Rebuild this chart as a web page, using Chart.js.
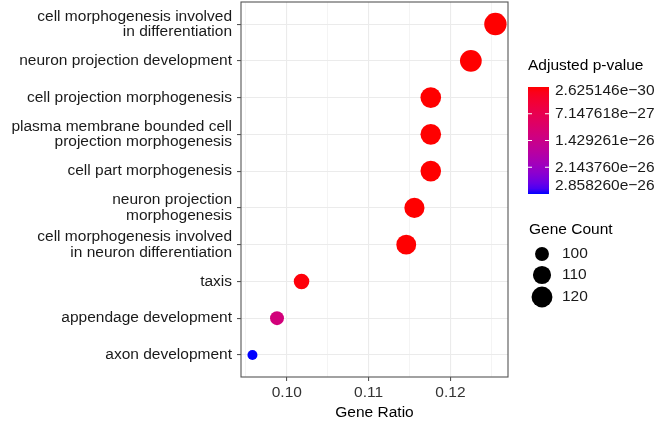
<!DOCTYPE html>
<html>
<head>
<meta charset="utf-8">
<script src="https://cdn.jsdelivr.net/npm/chart.js@4.4.1/dist/chart.umd.min.js"></script>
<style>
  body { margin: 0; background: #fff; }
  #wrap { width: 658px; height: 421px; }
</style>
</head>
<body>
<div id="wrap"><canvas id="grafico" width="658" height="421"></canvas></div>
<script>
// ---- dados (de cima para baixo) ----
const categorias = [
    "cell morphogenesis involved\nin differentiation",
    "neuron projection development",
    "cell projection morphogenesis",
    "plasma membrane bounded cell\nprojection morphogenesis",
    "cell part morphogenesis",
    "neuron projection\nmorphogenesis",
    "cell morphogenesis involved\nin neuron differentiation",
    "taxis",
    "appendage development",
    "axon development"
];
const geneRatio = [0.1255, 0.1225, 0.1176, 0.1176, 0.1176, 0.1156, 0.1146, 0.1018, 0.0988, 0.0958];
const geneCount = [127, 124, 119, 119, 119, 117, 116, 103, 100, 97];
const pAjustado = [2.625146e-30, 4.1e-30, 6.2e-30, 6.2e-30, 6.8e-30, 1.9e-29, 3.5e-29, 4.4e-28, 1.25e-26, 2.858260e-26];

const xTicksMaiores = [0.10, 0.11, 0.12];
const xTicksMenores = [0.095, 0.105, 0.115, 0.125];

const pBreaks = [2.625146e-30, 7.147618e-27, 1.429261e-26, 2.143760e-26, 2.858260e-26];
const pLabels = ["2.625146e\u221230", "7.147618e\u221227", "1.429261e\u221226", "2.143760e\u221226", "2.858260e\u221226"];
const countBreaks = [100, 110, 120];

const FONTE = "'Liberation Sans', Arial, sans-serif";
const TAM = 15.5;
const n = categorias.length;

// ---- cores: gradiente vermelho -> azul em Lab (como o ggplot) ----
function lin(c) { c /= 255; return c <= 0.04045 ? c / 12.92 : Math.pow((c + 0.055) / 1.055, 2.4); }
function unlin(c) { c = c <= 0.0031308 ? 12.92 * c : 1.055 * Math.pow(c, 1 / 2.4) - 0.055; return Math.round(Math.min(1, Math.max(0, c)) * 255); }
const Xn = 0.95047, Yn = 1, Zn = 1.08883;
function rgbToLab(r, g, b) {
    r = lin(r); g = lin(g); b = lin(b);
    let x = (r * 0.4124 + g * 0.3576 + b * 0.1805) / Xn;
    let y = (r * 0.2126 + g * 0.7152 + b * 0.0722) / Yn;
    let z = (r * 0.0193 + g * 0.1192 + b * 0.9505) / Zn;
    const f = t => t > 0.008856 ? Math.cbrt(t) : 7.787 * t + 16 / 116;
    x = f(x); y = f(y); z = f(z);
    return [116 * y - 16, 500 * (x - y), 200 * (y - z)];
}
function labToRgb(L, a, b) {
    let y = (L + 16) / 116, x = a / 500 + y, z = y - b / 200;
    const fi = t => t * t * t > 0.008856 ? t * t * t : (t - 16 / 116) / 7.787;
    x = fi(x) * Xn; y = fi(y) * Yn; z = fi(z) * Zn;
    const r = x * 3.2406 + y * -1.5372 + z * -0.4986;
    const g = x * -0.9689 + y * 1.8758 + z * 0.0415;
    const bl = x * 0.0557 + y * -0.2040 + z * 1.0570;
    return "rgb(" + unlin(r) + "," + unlin(g) + "," + unlin(bl) + ")";
}
const labVermelho = rgbToLab(255, 0, 0);
const labAzul = rgbToLab(0, 0, 255);
const pMin = Math.min(...pAjustado), pMax = Math.max(...pAjustado);
function corT(t) {
    return labToRgb(
        labVermelho[0] + (labAzul[0] - labVermelho[0]) * t,
        labVermelho[1] + (labAzul[1] - labVermelho[1]) * t,
        labVermelho[2] + (labAzul[2] - labVermelho[2]) * t
    );
}
function corP(p) { return corT((p - pMin) / (pMax - pMin)); }

// ---- tamanho: area proporcional ----
const cMin = Math.min(...geneCount), cMax = Math.max(...geneCount);
function raio(c) { return 5 + 6.2 * Math.sqrt(Math.max(0, (c - cMin) / (cMax - cMin))); }

function ehMaior(v) { return xTicksMaiores.some(m => Math.abs(m - v) < 1e-9); }

// ---- borda do painel + legendas ----
const pluginExtra = {
    id: "extra",
    afterDraw(chart) {
        const ctx = chart.ctx;
        const a = chart.chartArea;
        ctx.save();
        ctx.strokeStyle = "#555";
        ctx.lineWidth = 1.1;
        ctx.strokeRect(a.left, a.top, a.right - a.left, a.bottom - a.top);

        // legenda de cor
        const lx = a.right + 20;
        ctx.fillStyle = "#000";
        ctx.font = TAM + "px " + FONTE;
        ctx.textBaseline = "middle";
        ctx.textAlign = "left";
        ctx.fillText("Adjusted p-value", lx, 66);

        const bx = lx, by = 87, bw = 21, bh = 107;
        const grad = ctx.createLinearGradient(0, by, 0, by + bh);
        for (let i = 0; i <= 20; i++) grad.addColorStop(i / 20, corT(i / 20));
        ctx.fillStyle = grad;
        ctx.fillRect(bx, by, bw, bh);

        ctx.strokeStyle = "#fff";
        ctx.lineWidth = 1;
        ctx.fillStyle = "#1a1a1a";
        pBreaks.forEach((p, i) => {
            const y = by + bh * (p - pMin) / (pMax - pMin);
            if (i > 0 && i < pBreaks.length - 1) {
                ctx.beginPath();
                ctx.moveTo(bx, y); ctx.lineTo(bx + 4, y);
                ctx.moveTo(bx + bw - 4, y); ctx.lineTo(bx + bw, y);
                ctx.stroke();
            }
            const ly = Math.min(by + bh - 8, Math.max(by + 4, y));
            ctx.fillText(pLabels[i], bx + bw + 6, ly);
        });

        // legenda de tamanho
        ctx.fillStyle = "#000";
        ctx.fillText("Gene Count", lx + 1, 230);
        const ys = [254, 275, 297];
        countBreaks.forEach((c, i) => {
            ctx.beginPath();
            ctx.arc(lx + 14, ys[i], raio(c), 0, Math.PI * 2);
            ctx.fillStyle = "#000";
            ctx.fill();
            ctx.fillStyle = "#1a1a1a";
            ctx.fillText(String(c), lx + 34, ys[i]);
        });
        ctx.restore();
    }
};

const pontos = geneRatio.map((g, i) => ({ x: g, y: n - i }));

new Chart(document.getElementById("grafico"), {
    type: "scatter",
    data: {
        datasets: [{
            data: pontos,
            pointRadius: ctx => raio(geneCount[ctx.dataIndex]),
            pointHoverRadius: ctx => raio(geneCount[ctx.dataIndex]),
            pointBackgroundColor: ctx => corP(pAjustado[ctx.dataIndex]),
            pointBorderWidth: 0,
            pointBorderColor: "rgba(0,0,0,0)"
        }]
    },
    options: {
        responsive: false,
        animation: false,
        events: [],
        layout: { autoPadding: false, padding: { left: 0, right: 150, top: 2, bottom: 0 } },
        plugins: { legend: { display: false }, tooltip: { enabled: false } },
        scales: {
            x: {
                type: "linear",
                min: 0.0944,
                max: 0.12704,
                afterBuildTicks: axis => {
                    axis.ticks = [...xTicksMaiores, ...xTicksMenores].sort((a, b) => a - b).map(v => ({ value: v }));
                },
                afterFit: axis => {
                    axis.height = 44;
                    axis.paddingLeft = 0; axis.paddingRight = 0;
                },
                ticks: {
                    autoSkip: false,
                    maxRotation: 0,
                    padding: 2,
                    color: "#333",
                    font: { family: FONTE, size: TAM },
                    callback: v => ehMaior(v) ? v.toFixed(2) : ""
                },
                grid: {
                    color: "#ebebeb",
                    lineWidth: ctx => ehMaior(ctx.tick.value) ? 1.1 : 0.55,
                    tickLength: 4,
                    tickWidth: 1.1,
                    tickColor: ctx => ehMaior(ctx.tick.value) ? "#555" : "rgba(0,0,0,0)"
                },
                border: { display: false },
                title: {
                    display: true,
                    text: "Gene Ratio",
                    color: "#000",
                    padding: { top: 0, bottom: -1 },
                    font: { family: FONTE, size: TAM }
                }
            },
            y: {
                type: "linear",
                min: 0.4,
                max: n + 0.6,
                afterBuildTicks: axis => {
                    axis.ticks = categorias.map((c, i) => ({ value: n - i }));
                },
                afterFit: axis => {
                    axis.width = 241;
                    axis.paddingTop = 0; axis.paddingBottom = 0;
                },
                ticks: {
                    autoSkip: false,
                    padding: 5,
                    color: "#1a1a1a",
                    font: { family: FONTE, size: TAM, lineHeight: 1.0 },
                    callback: v => categorias[n - Math.round(v)].split("\n")
                },
                grid: {
                    color: "#ebebeb",
                    lineWidth: 1.1,
                    tickLength: 4,
                    tickWidth: 1.1,
                    tickColor: "#555"
                },
                border: { display: false }
            }
        }
    },
    plugins: [pluginExtra]
});
</script>
</body>
</html>
